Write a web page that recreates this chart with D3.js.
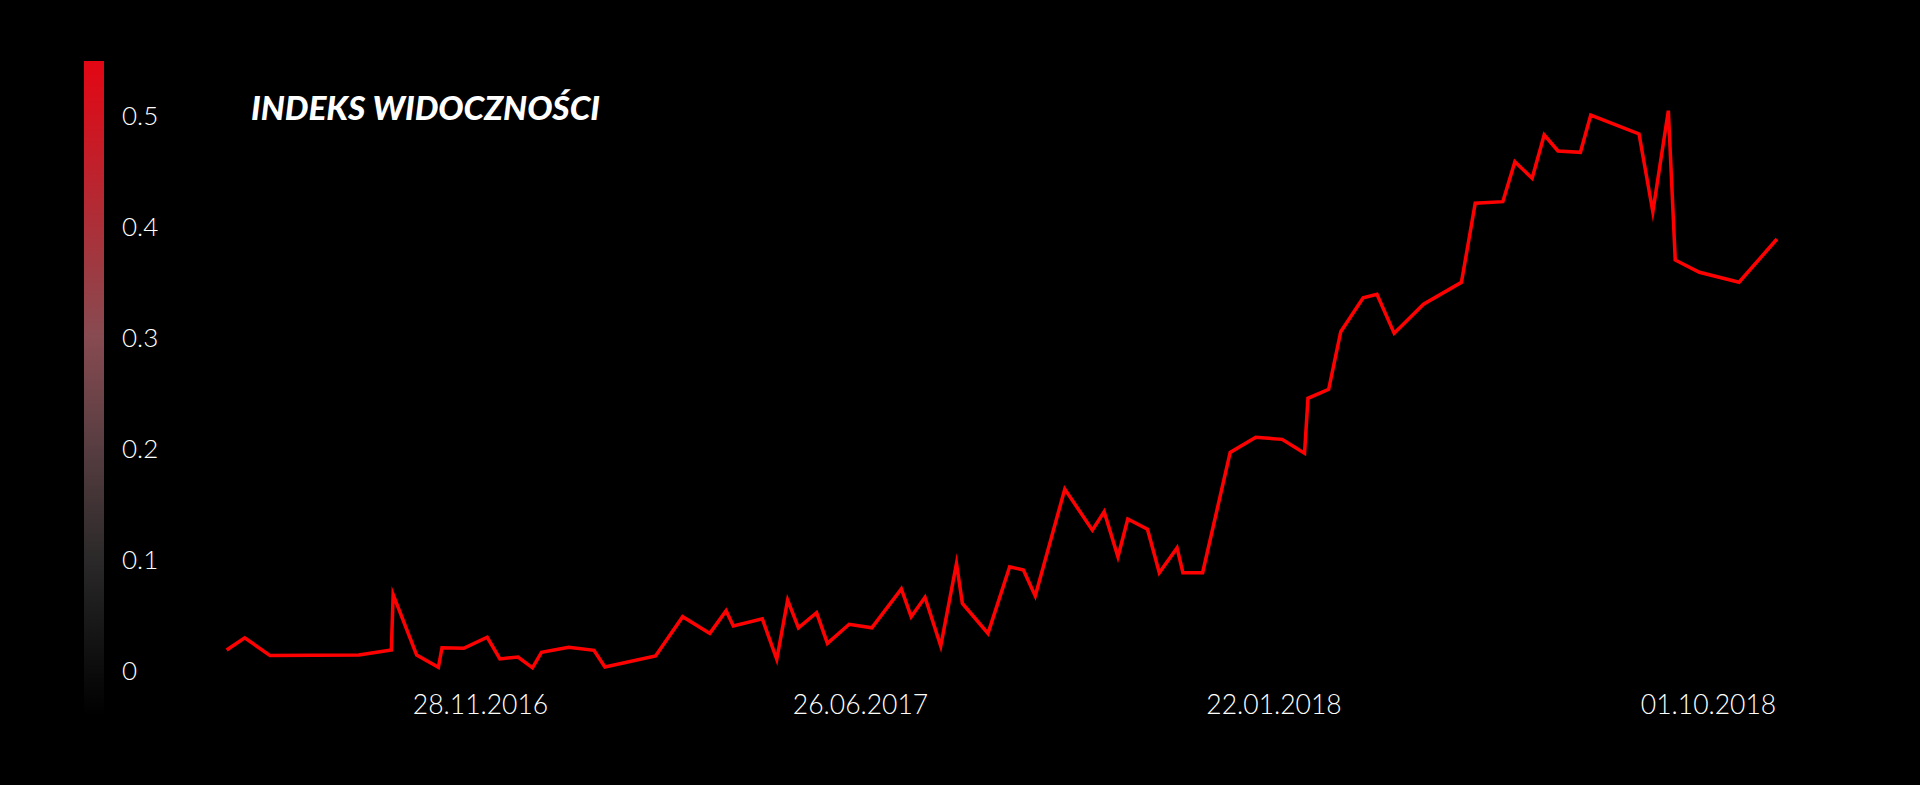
<!DOCTYPE html>
<html>
<head>
<meta charset="utf-8">
<script src="https://cdn.jsdelivr.net/npm/d3@7"></script>
<style>
  html, body { margin: 0; padding: 0; background: #000; }
  svg { display: block; }
</style>
</head>
<body>
<div id="chart"></div>
<script>
// ---- data ----
const title = "INDEKS WIDOCZNOŚCI";

const dates = [
  "2016-07-11","2016-07-21","2016-08-04","2016-09-22","2016-10-10","2016-10-11","2016-10-24","2016-11-05",
  "2016-11-07","2016-11-19","2016-12-02","2016-12-09","2016-12-19","2016-12-27","2017-01-01","2017-01-16",
  "2017-01-30","2017-02-05","2017-03-05","2017-03-20","2017-04-04","2017-04-13","2017-04-17","2017-05-03",
  "2017-05-11","2017-05-17","2017-05-23","2017-06-02","2017-06-08","2017-06-20","2017-07-02","2017-07-17",
  "2017-07-22","2017-07-29","2017-08-06","2017-08-14","2017-08-17","2017-08-30","2017-09-10","2017-09-17",
  "2017-09-23","2017-10-08","2017-10-22","2017-10-28","2017-11-04","2017-11-09","2017-11-19","2017-11-25",
  "2017-12-04","2017-12-07","2017-12-17","2017-12-31","2018-01-13","2018-01-27","2018-02-09","2018-02-11",
  "2018-02-23","2018-03-02","2018-03-15","2018-03-23","2018-04-02","2018-04-19","2018-05-11","2018-05-19",
  "2018-06-04","2018-06-11","2018-06-21","2018-06-28","2018-07-06","2018-07-19","2018-07-25","2018-08-22",
  "2018-08-30","2018-09-08","2018-09-12","2018-09-26","2018-10-19","2018-11-10"
];

const values = [
  0.018, 0.029, 0.013, 0.0135, 0.018, 0.068, 0.0135, 0.0024,
  0.020, 0.0195, 0.0295, 0.010, 0.0117, 0.002, 0.016, 0.0205,
  0.0177, 0.0027, 0.0126, 0.048, 0.033, 0.0534, 0.0396, 0.0462,
  0.0096, 0.063, 0.038, 0.0516, 0.024, 0.0412, 0.038, 0.073,
  0.048, 0.0655, 0.0216, 0.096, 0.060, 0.033, 0.093, 0.090,
  0.0667, 0.163, 0.126, 0.1426, 0.102, 0.136, 0.1268, 0.0877,
  0.110, 0.0877, 0.0877, 0.196, 0.2096, 0.2078, 0.1952, 0.2448,
  0.2529, 0.3048, 0.3354, 0.3385, 0.3033, 0.3295, 0.3493, 0.4205,
  0.4219, 0.4579, 0.443, 0.482, 0.4676, 0.4664, 0.500, 0.4829,
  0.4129, 0.5039, 0.3694, 0.3583, 0.3493, 0.3883
];

const xTickDates = ["2016-11-28", "2017-06-26", "2018-01-22", "2018-10-01"];
const xTickLabels = ["28.11.2016", "26.06.2017", "22.01.2018", "01.10.2018"];
const yTickValues = [0, 0.1, 0.2, 0.3, 0.4, 0.5];
const yTickLabels = ["0", "0.1", "0.2", "0.3", "0.4", "0.5"];

// ---- layout ----
const W = 1920, H = 785;
const parse = d3.timeParse("%Y-%m-%d");
const points = dates.map((d, i) => ({ date: parse(d), value: values[i] }));

const x = d3.scaleTime()
  .domain(xTickDates.map(parse))
  .range([480, 860, 1273.5, 1708]);

const y = d3.scaleLinear().domain([0, 0.5]).range([670, 115]);

const svg = d3.select("#chart").append("svg")
  .attr("width", W).attr("height", H)
  .style("background", "#000");

// gradient bar (y axis)
const defs = svg.append("defs");
const grad = defs.append("linearGradient")
  .attr("id", "barGrad").attr("x1", 0).attr("y1", 0).attr("x2", 0).attr("y2", 1);
[[0, "#e30613"], [0.42, "#874b51"], [0.59, "#573d41"], [0.76, "#2b2929"], [0.9, "#111"], [1, "#000"]]
  .forEach(([o, c]) => grad.append("stop").attr("offset", o).attr("stop-color", c));

svg.append("rect")
  .attr("x", 84).attr("y", 61)
  .attr("width", 20).attr("height", 655)
  .attr("fill", "url(#barGrad)");

// y axis labels
const yAxis = d3.axisRight(y)
  .tickValues(yTickValues)
  .tickSize(0)
  .tickPadding(0)
  .tickFormat((d, i) => yTickLabels[i]);

const gy = svg.append("g").attr("transform", "translate(122,0)").call(yAxis);
gy.select(".domain").remove();
gy.selectAll("text")
  .attr("fill", "#ffffff")
  .attr("font-family", "Lato, 'Open Sans', sans-serif")
  .attr("font-weight", 300)
  .attr("font-size", 26)
  .attr("dy", "0.35em");

// x axis labels
const xAxis = d3.axisBottom(x)
  .tickValues(xTickDates.map(parse))
  .tickSize(0)
  .tickPadding(0)
  .tickFormat((d, i) => xTickLabels[i]);

const gx = svg.append("g").attr("transform", "translate(0,705)").call(xAxis);
gx.select(".domain").remove();
gx.selectAll("text")
  .attr("fill", "#ffffff")
  .attr("font-family", "Lato, 'Open Sans', sans-serif")
  .attr("font-weight", 300)
  .attr("font-size", 26.5)
  .attr("dy", "0.35em");

// title
svg.append("text")
  .attr("x", 251).attr("y", 120)
  .attr("fill", "#fff")
  .attr("font-family", "Lato, 'Open Sans', sans-serif")
  .attr("font-weight", 900)
  .attr("font-style", "italic")
  .attr("font-size", 32)
  .attr("textLength", 349)
  .attr("lengthAdjust", "spacingAndGlyphs")
  .text(title);

// line
const line = d3.line()
  .x(d => x(d.date))
  .y(d => y(d.value));

svg.append("path")
  .datum(points)
  .attr("d", line)
  .attr("fill", "none")
  .attr("stroke", "#ff0000")
  .attr("stroke-width", 3.5)
  .attr("stroke-linejoin", "miter")
  .attr("stroke-miterlimit", 10);
</script>
</body>
</html>
